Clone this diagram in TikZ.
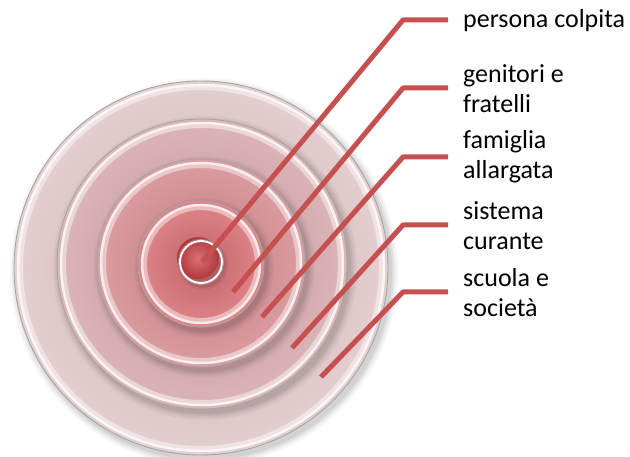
\documentclass[tikz,border=0pt]{standalone}
\usepackage{fontspec}
\setmainfont{Carlito}
\definecolor{lred}{RGB}{198,80,80}
\definecolor{pA}{RGB}{224,198,200}
\definecolor{pB}{RGB}{214,168,172}
\definecolor{pC}{RGB}{214,140,145}
\definecolor{pD}{RGB}{218,112,118}
\definecolor{pE}{RGB}{206,66,70}
\newcommand\myplate[4]{%
  \foreach \k/\o in {7/0.03,5/0.04,3/0.05,1/0.06}{\fill[black,opacity=\o] ({#1+3},{#2+4}) circle [radius={#3pt+\k pt}];}
  \shade[inner color=#4!88!black, outer color=#4!85!white] (#1,#2) circle [radius=#3pt];
  \draw[white, opacity=0.45, line width=6pt] (#1,#2) circle [radius={#3pt-6pt}];
  \draw[white, opacity=0.7, line width=2.5pt] (#1,#2) circle [radius={#3pt-4pt}];
  \draw[rimline] (#1,#2) circle [radius=#3pt];
}
\begin{document}
\begin{tikzpicture}[x=1pt,y=-1pt,
  rimline/.style={draw=gray!70, line width=0.9pt},
  lbl/.style={anchor=west, inner sep=0pt, align=left, font=\fontsize{26}{30}\selectfont, text=black},
  conn/.style={draw=lred, line width=5pt, line join=bevel, line cap=butt}]
\useasboundingbox (0,0) rectangle (630,457);
\fill[white] (0,0) rectangle (630,457);
% plates
\myplate{201}{268}{187}{pA}
\myplate{202}{264}{145}{pB}
\myplate{201}{263}{104}{pC}
\myplate{201}{264}{63}{pD}
% inner disc
\foreach \k/\o in {4/0.05,2/0.07}{\fill[black,opacity=\o] (203,265) circle [radius={21pt+\k pt}];}
\shade[inner color=pE!75!white, outer color=pE!85!black] (198,258) circle [radius=21pt];
\draw[white, line width=2pt] (201,262) circle [radius=21pt];
\draw[gray!70, line width=0.6pt] (201,262) circle [radius=22.5pt];
% anchor points
\coordinate (s1) at (202,262); \coordinate (k1) at (403,20);
\coordinate (s2) at (233,292); \coordinate (k2) at (403,88);
\coordinate (s3) at (262,317); \coordinate (k3) at (403,157);
\coordinate (s4) at (292,348); \coordinate (k4) at (403,225);
\coordinate (s5) at (321,377); \coordinate (k5) at (403,292);
% labels
\node[lbl] (t1) at (463,21) {persona colpita};
\node[lbl] (t2) at (463,89) {genitori e\\fratelli};
\node[lbl] (t3) at (463,157) {famiglia\\allargata};
\node[lbl] (t4) at (463,226) {sistema\\curante};
\node[lbl] (t5) at (463,293) {scuola e\\società};
% connectors
\foreach \i in {1,...,5}{\draw[conn] (s\i) -- (k\i) -- ([xshift=-15pt]t\i.west |- k\i);}
\end{tikzpicture}
\end{document}
